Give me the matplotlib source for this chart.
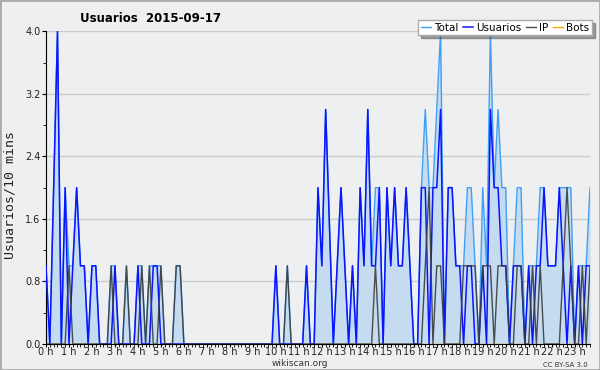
import matplotlib
matplotlib.use("Agg")
import matplotlib.pyplot as plt
import numpy as np

# usuarios registrados y IPs por cada 10 minutos (lectura aproximada)
usuarios = [1, 0, 2, 4, 0, 2, 0, 1, 2, 1, 1, 0, 1, 1, 0, 0, 0, 0, 1, 0,
            0, 0, 0, 0, 1, 0, 0, 0, 1, 1, 0, 0, 0, 0, 0, 0, 0, 0, 0, 0,
            0, 0, 0, 0, 0, 0, 0, 0, 0, 0, 0, 0, 0, 0, 0, 0, 0, 0, 0, 0,
            1, 0, 0, 0, 0, 0, 0, 0, 1, 0, 0, 2, 1, 3, 1.5, 0, 1, 2, 1, 0,
            1, 0, 2, 1, 3, 1, 1, 2, 0, 2, 1, 2, 1, 1, 2, 1, 0, 0, 2, 2,
            0, 2, 2, 3, 0, 2, 2, 1, 1, 0, 1, 1, 0, 0, 1, 0, 3, 2, 2, 1,
            1, 0, 1, 1, 1, 0, 1, 0, 1, 1, 2, 1, 1, 1, 2, 1, 0, 1, 0, 1,
            0, 1, 1]
ip = [0, 0, 0, 0, 0, 0, 1, 0, 0, 0, 0, 0, 0, 0, 0, 0, 0, 1, 0, 0,
      0, 1, 0, 0, 0, 1, 0, 1, 0, 0, 1, 0, 0, 0, 1, 1, 0, 0, 0, 0,
      0, 0, 0, 0, 0, 0, 0, 0, 0, 0, 0, 0, 0, 0, 0, 0, 0, 0, 0, 0,
      0, 0, 0, 1, 0, 0, 0, 0, 0, 0, 0, 0, 0, 0, 0, 0, 0, 0, 0, 0,
      0, 0, 0, 0, 0, 0, 1, 0, 0, 0, 0, 0, 0, 0, 0, 0, 0, 0, 0, 1,
      2, 0, 1, 1, 0, 0, 0, 0, 0, 1, 1, 1, 1, 0, 1, 1, 1, 0, 1, 1,
      1, 0, 0, 1, 1, 0, 0, 1, 0, 1, 0, 0, 0, 0, 0, 1, 2, 1, 0, 0,
      1, 0, 1]
bots = [0] * len(usuarios)
total = [u + p + b for u, p, b in zip(usuarios, ip, bots)]

horas = ["%d h" % h for h in range(24)]
yticks = [0.0, 0.8, 1.6, 2.4, 3.2, 4.0]

x = np.arange(len(total))

fig = plt.figure(figsize=(6, 3.7), dpi=100, facecolor="#efefef")
ax = fig.add_axes([46/600, 1-344/370, 544/600, 312.7/370])
ax.set_facecolor("#eeeff0")

ax.fill_between(x, total, 0, color="#c5dcf0", lw=0, zorder=1)
ax.plot(x, bots, color="#ffa500", lw=1, label="Bots", zorder=1.5)
ax.plot(x, total, color="#3fa0f5", lw=1, label="Total", zorder=2)
ax.plot(x, usuarios, color="#0a14ff", lw=1.1, label="Usuarios", zorder=3)
ax.plot(x, ip, color="#3c3c3c", lw=1, alpha=0.9, label="IP", zorder=4)

ax.set_xlim(0, len(total) - 1)
ax.set_ylim(0, 4.0)
ax.set_yticks(yticks)
ax.set_yticklabels(["%.1f" % v for v in yticks])
ax.set_yticks(np.arange(0, 4.01, 0.4), minor=True)
ax.set_xticks(np.arange(0, 144, 6))
ax.set_xticklabels(horas)
ax.set_xticks(np.arange(0, 143, 1), minor=True)
ax.tick_params(axis="both", which="both", direction="out", color="black",
               labelsize=7, labelcolor="#222222")
ax.tick_params(axis="y", which="major", length=3, pad=1)
ax.tick_params(axis="y", which="minor", length=2.5)
ax.tick_params(axis="x", which="major", length=2.5, pad=0)
ax.tick_params(axis="x", which="minor", length=2.5)
ax.grid(axis="y", color="#cccccc", lw=1)
ax.set_axisbelow(True)
for s in ["top", "right"]:
    ax.spines[s].set_visible(False)
ax.spines["left"].set_color("black")
ax.spines["bottom"].set_color("black")

fig.text(10/600, 1-195/370, "Usuarios/10 mins", fontsize=9.5,
         family="DejaVu Sans Mono", rotation=90, ha="center", va="center",
         color="#222222")
fig.text(151/600, 1-18/370, "Usuarios  2015-09-17", fontsize=8.5,
         fontweight="bold", ha="center", va="center")
fig.text(300/600, 1-363/370, "wikiscan.org", fontsize=6.5, ha="center",
         va="center", color="#333333")
fig.text(588/600, 1-365/370, "CC BY-SA 3.0", fontsize=5, ha="right",
         va="center", color="#333333")

handles, labels = ax.get_legend_handles_labels()
order = [labels.index(n) for n in ["Total", "Usuarios", "IP", "Bots"]]
leg = fig.legend([handles[k] for k in order], [labels[k] for k in order],
                 loc="upper right", bbox_to_anchor=(592/600, 1-20/370),
                 ncol=4, fontsize=7.5, frameon=True, fancybox=False,
                 shadow=True, handlelength=1.0, handletextpad=0.3,
                 columnspacing=0.4, borderpad=0.25, borderaxespad=0)
leg.get_frame().set_edgecolor("#aaaaaa")
leg.get_frame().set_facecolor("white")

fig.patches.append(plt.Rectangle((0, 0), 1, 1, transform=fig.transFigure,
                                 fill=False, edgecolor="#aaaaaa", lw=2))

fig.savefig("out.png", dpi=100, facecolor=fig.get_facecolor())
